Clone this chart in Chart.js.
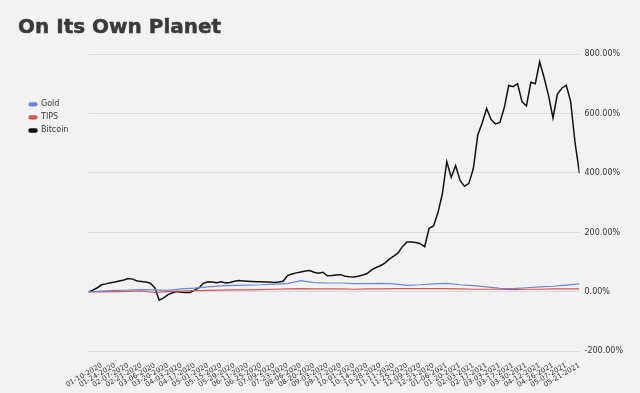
<!DOCTYPE html>
<html>
<head>
<meta charset="utf-8">
<script src="https://cdn.jsdelivr.net/npm/chart.js@4"></script>
<style>
  html, body { margin: 0; padding: 0; background: #f2f2f2; }
  #wrap { position: relative; width: 640px; height: 393px; }
  #title {
    position: absolute; left: 18px; top: 12px;
    font-family: 'DejaVu Sans', sans-serif; font-weight: bold; font-size: 20px;
    color: #3a3a3a; margin: 0; line-height: 28px;
    -webkit-text-stroke: 0.5px #3a3a3a;
  }
</style>
</head>
<body>
<div id="wrap">
  <h1 id="title">On Its Own Planet</h1>
  <canvas id="planetChart"></canvas>
</div>
<script>
// --- Dados ---
// rótulos do eixo X (um a cada 10 dias de negociação)
const tickLabels = [
    '01-10-2020', '01-24-2020', '02-07-2020', '02-21-2020', '03-06-2020', '03-20-2020',
    '04-03-2020', '04-17-2020', '05-01-2020', '05-15-2020', '05-29-2020', '06-11-2020',
    '06-25-2020', '07-09-2020', '07-23-2020', '08-06-2020', '08-20-2020', '09-03-2020',
    '09-17-2020', '10-01-2020', '10-14-2020', '10-28-2020', '11-11-2020', '11-25-2020',
    '12-09-2020', '12-23-2020', '01-06-2021', '01-20-2021', '02-03-2021', '02-17-2021',
    '03-03-2021', '03-17-2021', '03-30-2021', '04-12-2021', '04-26-2021', '05-07-2021',
    '05-21-2021'
];

// Ouro: um valor por intervalo (começa um intervalo antes de 01-10-2020)
const goldValues = [
    0, 3, 5, 6, 8, 7, 5, 10, 13, 17, 20, 22, 23, 24, 26, 28, 38, 31, 30,
    30, 28, 28, 29, 27, 22, 24, 27, 29, 24, 21, 17, 12, 11, 14, 17, 19, 23, 27
];

// TIPS: um valor por intervalo
const tipsValues = [
    0, 0, 1, 2, 3, -2, 1, 3, 4, 5, 6, 7, 7, 8, 9, 10, 11, 10, 10,
    10, 9, 10, 10, 11, 11, 11, 11, 11, 10, 9, 9, 9, 8, 9, 9, 10, 10, 10
];

// Bitcoin: três valores por intervalo
const bitcoinValues = [
    0, 6, 14, 24, 27, 31, 33, 37, 40, 45, 43, 37, 35, 33, 29, 14,
    -28, -20, -9, -3, 1, -1, -2, -2, 6, 14, 29, 34, 33, 31, 34, 30,
    32, 36, 38, 37, 36, 35, 34, 34, 33, 33, 32, 33, 36, 55, 60, 64,
    67, 70, 72, 66, 63, 66, 54, 55, 57, 58, 53, 51, 50, 53, 57, 62,
    74, 82, 88, 97, 110, 120, 131, 153, 168, 168, 166, 162, 152, 214, 222, 266,
    330, 438, 385, 425, 375, 355, 365, 415, 528, 568, 617, 580, 565, 570, 620, 694,
    690, 700, 640, 625, 705, 700, 774, 720, 660, 585, 665, 685, 695, 640, 500, 399
];

const planetColors = {
    gold: '#6489d8',
    tips: '#d9534f',
    bitcoin: '#111111',
    text: '#333333',
    grid: '#dadada'
};

Chart.defaults.font.family = "'DejaVu Sans', sans-serif";
Chart.defaults.color = planetColors.text;

// constrói os pontos {x, y}; x em unidades de intervalo de rótulo
function toPoints(values, perInterval) {
    return values.map((v, i) => ({ x: -1 + i / perInterval, y: v }));
}

const ctx = document.getElementById('planetChart');

new Chart(ctx, {
    type: 'line',
    data: {
        datasets: [
            {
                label: 'Gold',
                data: toPoints(goldValues, 1),
                yAxisID: 'y',
                borderColor: planetColors.gold,
                backgroundColor: planetColors.gold,
                borderWidth: 1.2,
                pointRadius: 0,
                tension: 0
            },
            {
                label: 'TIPS',
                data: toPoints(tipsValues, 1),
                yAxisID: 'y',
                borderColor: planetColors.tips,
                backgroundColor: planetColors.tips,
                borderWidth: 1.2,
                pointRadius: 0,
                tension: 0
            },
            {
                label: 'Bitcoin',
                data: toPoints(bitcoinValues, 3),
                yAxisID: 'y',
                borderColor: planetColors.bitcoin,
                backgroundColor: planetColors.bitcoin,
                borderWidth: 1.5,
                pointRadius: 0,
                tension: 0
            }
        ]
    },
    options: {
        responsive: true,
        maintainAspectRatio: false,
        animation: false,
        layout: {
            padding: { left: 24, right: 12, top: 54, bottom: 2 }
        },
        scales: {
            x: {
                type: 'linear',
                min: -1,
                max: 36,
                grid: { display: false },
                border: { display: false },
                ticks: {
                    stepSize: 1,
                    autoSkip: false,
                    minRotation: 30,
                    maxRotation: 30,
                    padding: 2,
                    color: planetColors.text,
                    font: { size: 7 },
                    callback: function(value) {
                        return tickLabels[value] || '';
                    }
                }
            },
            y: {
                position: 'right',
                min: -200,
                max: 800,
                grid: { color: planetColors.grid, drawTicks: false },
                border: { display: false },
                ticks: {
                    stepSize: 200,
                    padding: 5,
                    color: planetColors.text,
                    font: { size: 8 },
                    callback: function(value) {
                        return value.toFixed(2) + '%';
                    }
                }
            },
            spacer: {
                // só reserva espaço entre a legenda e o gráfico
                position: 'left',
                display: true,
                grid: { display: false },
                border: { display: false },
                ticks: { display: false },
                afterFit: function(scale) { scale.width = 10; }
            }
        },
        plugins: {
            legend: {
                position: 'left',
                align: 'start',
                fullSize: false,
                title: {
                    display: true,
                    text: '',
                    padding: { top: 27, bottom: 0 }
                },
                labels: {
                    boxWidth: 8,
                    boxHeight: 3,
                    padding: 5,
                    useBorderRadius: true,
                    borderRadius: 1.5,
                    color: planetColors.text,
                    font: { size: 8 }
                }
            },
            tooltip: { enabled: false }
        }
    }
});
</script>
</body>
</html>
